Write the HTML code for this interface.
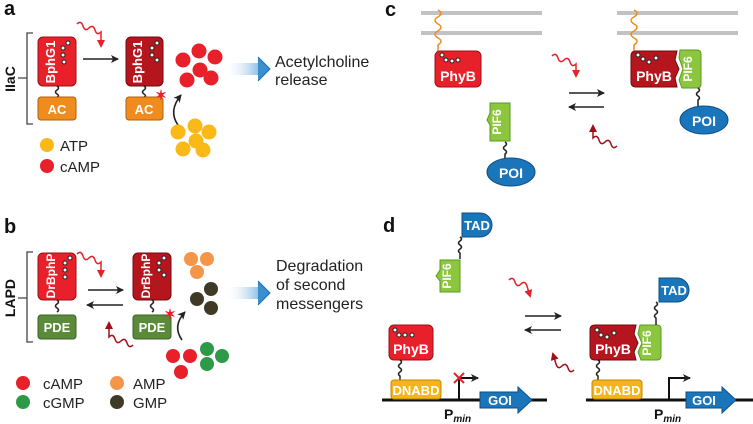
<!DOCTYPE html>
<html><head><meta charset="utf-8"><style>
html,body{margin:0;padding:0;background:#fff}
svg{display:block;font-family:"Liberation Sans",sans-serif}
.w{fill:#fff;font-weight:bold}
.t{fill:#222}
</style></head><body>
<svg width="753" height="424" viewBox="0 0 753 424" xmlns="http://www.w3.org/2000/svg">
<defs>
<linearGradient id="bg" x1="0" x2="1"><stop offset="0" stop-color="#fff" stop-opacity="0"/><stop offset="1" stop-color="#3a8fd0"/></linearGradient>
<marker id="ah" markerWidth="8" markerHeight="8" refX="7" refY="4" orient="auto" markerUnits="userSpaceOnUse"><path d="M0,0 L8,4 L0,8 L2,4Z" fill="#222"/></marker>
<marker id="rh" markerWidth="8" markerHeight="8" refX="6" refY="4" orient="auto" markerUnits="userSpaceOnUse"><path d="M0,0 L8,4 L0,8Z" fill="#e8202a"/></marker>
<marker id="dh" markerWidth="8" markerHeight="8" refX="6" refY="4" orient="auto" markerUnits="userSpaceOnUse"><path d="M0,0 L8,4 L0,8Z" fill="#a01018"/></marker>
</defs>

<!-- Panel a -->
<text x="4" y="15" font-size="20" font-weight="bold" fill="#111">a</text>
<path d="M33,33 H27 V124 H33 M18,78 H27" stroke="#444" stroke-width="1.3" fill="none"/>
<text transform="translate(15,79) rotate(-90)" text-anchor="middle" font-size="14" font-weight="bold" fill="#111">IIaC</text>
<rect x="38" y="37" width="38" height="49" rx="5" fill="#e8202a" stroke="#9a1016"/>
<text transform="translate(55,62) rotate(-90)" text-anchor="middle" class="w" font-size="13">BphG1</text>
<g fill="#fff" stroke="#222" stroke-width="1"><circle cx="68" cy="43" r="2"/><circle cx="63" cy="48" r="2"/><circle cx="63" cy="55" r="2"/><circle cx="64" cy="62" r="2"/></g>
<path d="M57,86 q3,2 0,4 q-3,2 0,4 q3,2 0,3" stroke="#222" stroke-width="1.5" fill="none"/>
<rect x="38" y="97" width="38" height="23" rx="3" fill="#f08c1e" stroke="#b0600a"/>
<text x="57" y="114" text-anchor="middle" class="w" font-size="13">AC</text>
<path d="M77,24 q4,-4 6,2 q2,6 6,2 q4,-4 6,2 q2,6 6,2 l0,14" stroke="#e8202a" stroke-width="1.5" fill="none" marker-end="url(#rh)"/>
<line x1="83" y1="59" x2="118" y2="59" stroke="#222" stroke-width="1.6" marker-end="url(#ah)"/>
<rect x="126" y="37" width="37" height="49" rx="5" fill="#b5151d" stroke="#700a10"/>
<text transform="translate(142,62) rotate(-90)" text-anchor="middle" class="w" font-size="13">BphG1</text>
<g fill="#fff" stroke="#222" stroke-width="1"><circle cx="157" cy="43" r="2"/><circle cx="152" cy="48" r="2"/><circle cx="152" cy="55" r="2"/><circle cx="157" cy="60" r="2"/></g>
<path d="M144,86 q3,2 0,4 q-3,2 0,4 q3,2 0,3" stroke="#222" stroke-width="1.5" fill="none"/>
<rect x="126" y="97" width="37" height="23" rx="3" fill="#f08c1e" stroke="#b0600a"/>
<text x="144" y="114" text-anchor="middle" class="w" font-size="13">AC</text>
<text x="161" y="100" text-anchor="middle" font-size="14" fill="#e8202a" font-weight="bold">✶</text>
<path d="M178,125 q-10,-14 3,-30" stroke="#222" stroke-width="1.6" fill="none" marker-end="url(#ah)"/>
<g fill="#e8202a"><circle cx="183" cy="60" r="7.5"/><circle cx="199" cy="51" r="7.5"/><circle cx="215" cy="57" r="7.5"/><circle cx="200" cy="70" r="7.5"/><circle cx="187" cy="80" r="7.5"/><circle cx="211" cy="78" r="7.5"/></g>
<g fill="#fbb917"><circle cx="178" cy="132" r="7.5"/><circle cx="195" cy="126" r="7.5"/><circle cx="209" cy="132" r="7.5"/><circle cx="196" cy="141" r="7.5"/><circle cx="183" cy="149" r="7.5"/><circle cx="203" cy="150" r="7.5"/></g>
<path d="M224,63 H258 V57 L270,69 L258,81 V75 H224Z" fill="url(#bg)"/>
<path d="M258,57 L270,69 L258,81" fill="#3a8fd0" stroke="#1f6fb0"/>
<text x="275" y="67" font-size="16" class="t">Acetylcholine</text>
<text x="275" y="85" font-size="16" class="t">release</text>
<circle cx="47" cy="145" r="7" fill="#fbb917"/><text x="60" y="151" font-size="15" class="t">ATP</text>
<circle cx="47" cy="166" r="7" fill="#e8202a"/><text x="60" y="172" font-size="15" class="t">cAMP</text>

<!-- Panel b -->
<text x="4" y="233" font-size="20" font-weight="bold" fill="#111">b</text>
<path d="M33,252 H27 V342 H33 M18,298 H27" stroke="#444" stroke-width="1.3" fill="none"/>
<text transform="translate(15,298) rotate(-90)" text-anchor="middle" font-size="14" font-weight="bold" fill="#111">LAPD</text>
<rect x="38" y="253" width="38" height="47" rx="5" fill="#e8202a" stroke="#9a1016"/>
<text transform="translate(55,276) rotate(-90)" text-anchor="middle" class="w" font-size="12">DrBphP</text>
<g fill="#fff" stroke="#222" stroke-width="1"><circle cx="70" cy="258" r="2"/><circle cx="65" cy="263" r="2"/><circle cx="65" cy="270" r="2"/><circle cx="65" cy="277" r="2"/></g>
<path d="M57,300 q3,2 0,4 q-3,2 0,4 q3,2 0,4" stroke="#222" stroke-width="1.5" fill="none"/>
<rect x="38" y="315" width="38" height="24" rx="3" fill="#5a8a3a" stroke="#3b6424"/>
<text x="57" y="332" text-anchor="middle" class="w" font-size="13">PDE</text>
<path d="M77,254 q4,-4 6,2 q2,6 6,2 q4,-4 6,2 q2,6 6,2 l0,14" stroke="#e8202a" stroke-width="1.5" fill="none" marker-end="url(#rh)"/>
<path d="M133,345 q-4,4 -6,-2 q-2,-6 -6,-2 q-4,4 -6,-2 q-2,-6 -6,-2 l0,-14" stroke="#a01018" stroke-width="1.5" fill="none" marker-end="url(#dh)"/>
<line x1="88" y1="290" x2="123" y2="290" stroke="#222" stroke-width="1.6" marker-end="url(#ah)"/>
<line x1="123" y1="305" x2="87" y2="305" stroke="#222" stroke-width="1.6" marker-end="url(#ah)"/>
<rect x="133" y="253" width="38" height="47" rx="5" fill="#b5151d" stroke="#700a10"/>
<text transform="translate(150,276) rotate(-90)" text-anchor="middle" class="w" font-size="12">DrBphP</text>
<g fill="#fff" stroke="#222" stroke-width="1"><circle cx="164" cy="258" r="2"/><circle cx="159" cy="263" r="2"/><circle cx="159" cy="270" r="2"/><circle cx="164" cy="275" r="2"/></g>
<path d="M152,300 q3,2 0,4 q-3,2 0,4 q3,2 0,4" stroke="#222" stroke-width="1.5" fill="none"/>
<rect x="133" y="315" width="38" height="24" rx="3" fill="#5a8a3a" stroke="#3b6424"/>
<text x="152" y="332" text-anchor="middle" class="w" font-size="13">PDE</text>
<text x="170" y="319" text-anchor="middle" font-size="14" fill="#e8202a" font-weight="bold">✶</text>
<path d="M182,340 q-10,-14 3,-28" stroke="#222" stroke-width="1.6" fill="none" marker-end="url(#ah)"/>
<g fill="#f4964a"><circle cx="191" cy="259" r="7"/><circle cx="207" cy="259" r="7"/><circle cx="197" cy="272" r="7"/></g>
<g fill="#3e3a26"><circle cx="211" cy="289" r="7"/><circle cx="197" cy="299" r="7"/><circle cx="211" cy="308" r="7"/></g>
<g fill="#e8202a"><circle cx="173" cy="356" r="7"/><circle cx="190" cy="356" r="7"/><circle cx="181" cy="372" r="7"/></g>
<g fill="#2e9a48"><circle cx="207" cy="349" r="7"/><circle cx="222" cy="356" r="7"/><circle cx="207" cy="364" r="7"/></g>
<path d="M225,287 H258 V281 L270,293 L258,305 V299 H225Z" fill="url(#bg)"/>
<path d="M258,281 L270,293 L258,305" fill="#3a8fd0" stroke="#1f6fb0"/>
<text x="276" y="271" font-size="16" class="t">Degradation</text>
<text x="276" y="290" font-size="16" class="t">of second</text>
<text x="276" y="309" font-size="16" class="t">messengers</text>
<circle cx="23" cy="383" r="7" fill="#e8202a"/><text x="43" y="389" font-size="15" class="t">cAMP</text>
<circle cx="23" cy="402" r="7" fill="#2e9a48"/><text x="43" y="408" font-size="15" class="t">cGMP</text>
<circle cx="117" cy="383" r="7" fill="#f4964a"/><text x="133" y="389" font-size="15" class="t">AMP</text>
<circle cx="117" cy="402" r="7" fill="#3e3a26"/><text x="133" y="408" font-size="15" class="t">GMP</text>

<!-- Panel c -->
<text x="385" y="16" font-size="20" font-weight="bold" fill="#111">c</text>
<g stroke="#c2c2c2" stroke-width="4"><line x1="421" y1="13" x2="542" y2="13"/><line x1="421" y1="33" x2="542" y2="33"/><line x1="617" y1="13" x2="738" y2="13"/><line x1="617" y1="33" x2="738" y2="33"/></g>
<path d="M438,10 q6,3 0,7 q-6,3 0,7 q6,3 0,7 q-6,3 0,7 q6,3 0,7 l0,7" stroke="#f08c1e" stroke-width="1.5" fill="none"/>
<path d="M634,10 q6,3 0,7 q-6,3 0,7 q6,3 0,7 q-6,3 0,7 q6,3 0,7 l0,7" stroke="#f08c1e" stroke-width="1.5" fill="none"/>
<rect x="435" y="51" width="46" height="36" rx="5" fill="#e8202a" stroke="#9a1016"/>
<g fill="#fff" stroke="#222" stroke-width="1"><circle cx="442" cy="55" r="2"/><circle cx="446" cy="60" r="2"/><circle cx="452" cy="61" r="2"/><circle cx="458" cy="60" r="2"/></g>
<text x="458" y="81" text-anchor="middle" class="w" font-size="14">PhyB</text>
<path d="M490,103 H510 V141 H490 V125 L487,120 L490,113Z" fill="#8cc63f" stroke="#5a9a20"/>
<text transform="translate(501,122) rotate(-90)" text-anchor="middle" class="w" font-size="12">PIF6</text>
<path d="M505,142 q3,2 0,4 q-3,2 0,4 q3,2 0,4 l0,4" stroke="#222" stroke-width="1.5" fill="none"/>
<ellipse cx="511" cy="172" rx="24" ry="14" fill="#1a75bb" stroke="#0e4f85"/>
<text x="511" y="178" text-anchor="middle" class="w" font-size="14">POI</text>
<path d="M552,56 q4,-4 6,2 q2,6 6,2 q4,-4 6,2 q2,6 6,2 l0,12" stroke="#e8202a" stroke-width="1.5" fill="none" marker-end="url(#rh)"/>
<path d="M617,146 q-4,4 -6,-2 q-2,-6 -6,-2 q-4,4 -6,-2 q-2,-6 -6,-2 l0,-12" stroke="#a01018" stroke-width="1.5" fill="none" marker-end="url(#dh)"/>
<line x1="569" y1="93" x2="604" y2="93" stroke="#222" stroke-width="1.6" marker-end="url(#ah)"/>
<line x1="604" y1="107" x2="569" y2="107" stroke="#222" stroke-width="1.6" marker-end="url(#ah)"/>
<path d="M636,51 H677 L675,60 L679,69 L675,78 L677,87 H636 Q631,87 631,82 V56 Q631,51 636,51Z" fill="#b5151d" stroke="#700a10"/>
<g fill="#fff" stroke="#222" stroke-width="1"><circle cx="638" cy="55" r="2"/><circle cx="643" cy="59" r="2"/><circle cx="649" cy="62" r="2"/><circle cx="656" cy="58" r="2"/></g>
<text x="654" y="81" text-anchor="middle" class="w" font-size="14">PhyB</text>
<path d="M680,50 H697 Q701,50 701,54 V84 Q701,88 697,88 H682 L679,80 L683,69 L679,58Z" fill="#8cc63f" stroke="#5a9a20"/>
<text transform="translate(692,69) rotate(-90)" text-anchor="middle" class="w" font-size="12">PIF6</text>
<path d="M698,88 q3,2 0,4 q-3,2 0,4 q3,2 0,4 l0,6" stroke="#222" stroke-width="1.5" fill="none"/>
<ellipse cx="704" cy="120" rx="24" ry="14" fill="#1a75bb" stroke="#0e4f85"/>
<text x="704" y="126" text-anchor="middle" class="w" font-size="14">POI</text>

<!-- Panel d -->
<text x="383" y="232" font-size="20" font-weight="bold" fill="#111">d</text>
<path d="M462,213 H480 A12,12 0 0 1 480,237 H462Z" fill="#1a75bb" stroke="#0e4f85"/>
<text x="477" y="230" text-anchor="middle" class="w" font-size="13">TAD</text>
<path d="M460,237 q3,2 0,4 q-3,2 0,4 q3,2 0,4 q-3,2 0,4 l0,6" stroke="#222" stroke-width="1.5" fill="none"/>
<path d="M440,260 H460 V292 H440 V281 L436,276 L440,270Z" fill="#8cc63f" stroke="#5a9a20"/>
<text transform="translate(451,276) rotate(-90)" text-anchor="middle" class="w" font-size="12">PIF6</text>
<path d="M509,280 q4,-4 6,2 q2,6 6,2 q4,-4 6,2 l3,10" stroke="#e8202a" stroke-width="1.5" fill="none" marker-end="url(#rh)"/>
<path d="M574,370 q-4,4 -6,-2 q-2,-6 -6,-2 q-4,4 -6,-2 l-3,-10" stroke="#a01018" stroke-width="1.5" fill="none" marker-end="url(#dh)"/>
<line x1="525" y1="316" x2="561" y2="316" stroke="#222" stroke-width="1.6" marker-end="url(#ah)"/>
<line x1="561" y1="330" x2="525" y2="330" stroke="#222" stroke-width="1.6" marker-end="url(#ah)"/>
<!-- left -->
<rect x="389" y="325" width="44" height="35" rx="5" fill="#e8202a" stroke="#9a1016"/>
<g fill="#fff" stroke="#222" stroke-width="1"><circle cx="395" cy="330" r="2"/><circle cx="399" cy="335" r="2"/><circle cx="405" cy="335" r="2"/><circle cx="412" cy="335" r="2"/></g>
<text x="411" y="354" text-anchor="middle" class="w" font-size="14">PhyB</text>
<path d="M400,360 q3,2 0,4 q-3,2 0,4 q3,2 0,4 q-3,2 0,4 l0,4" stroke="#222" stroke-width="1.5" fill="none"/>
<line x1="382" y1="400" x2="547" y2="400" stroke="#111" stroke-width="3"/>
<rect x="391" y="380" width="50" height="19" rx="3" fill="#f5b41a" stroke="#c08a00"/>
<text x="416" y="395" text-anchor="middle" class="w" font-size="13">DNABD</text>
<path d="M459,400 V378 H478" stroke="#111" stroke-width="2" fill="none" marker-end="url(#ah)"/>
<path d="M454,373 L464,383 M464,373 L454,383" stroke="#e8202a" stroke-width="2"/>
<path d="M480,392 H518 V387 L532,400 L518,413 V408 H480Z" fill="#1a75bb" stroke="#0e4f85"/>
<text x="500" y="405" text-anchor="middle" class="w" font-size="13">GOI</text>
<text x="444" y="419" font-size="14" font-weight="bold" fill="#111">P<tspan font-size="10" font-style="italic" dy="3">min</tspan></text>
<!-- right -->
<line x1="586" y1="400" x2="753" y2="400" stroke="#111" stroke-width="3"/>
<path d="M595,325 H636 L634,334 L638,343 L634,352 L636,360 H595 Q590,360 590,355 V330 Q590,325 595,325Z" fill="#b5151d" stroke="#700a10"/>
<g fill="#fff" stroke="#222" stroke-width="1"><circle cx="597" cy="330" r="2"/><circle cx="601" cy="335" r="2"/><circle cx="607" cy="337" r="2"/><circle cx="614" cy="333" r="2"/></g>
<text x="613" y="354" text-anchor="middle" class="w" font-size="14">PhyB</text>
<path d="M640,325 H657 Q661,325 661,329 V356 Q661,360 657,360 H641 L638,352 L642,343 L638,334Z" fill="#8cc63f" stroke="#5a9a20"/>
<text transform="translate(651,343) rotate(-90)" text-anchor="middle" class="w" font-size="12">PIF6</text>
<path d="M656,302 q3,2 0,4 q-3,2 0,4 q3,2 0,4 q-3,2 0,4 l0,7" stroke="#222" stroke-width="1.5" fill="none"/>
<path d="M659,278 H677 A12,12 0 0 1 677,302 H659Z" fill="#1a75bb" stroke="#0e4f85"/>
<text x="674" y="295" text-anchor="middle" class="w" font-size="13">TAD</text>
<path d="M598,360 q3,2 0,4 q-3,2 0,4 q3,2 0,4 q-3,2 0,4 l0,4" stroke="#222" stroke-width="1.5" fill="none"/>
<rect x="592" y="380" width="50" height="19" rx="3" fill="#f5b41a" stroke="#c08a00"/>
<text x="617" y="395" text-anchor="middle" class="w" font-size="13">DNABD</text>
<path d="M669,400 V378 H690" stroke="#111" stroke-width="2" fill="none" marker-end="url(#ah)"/>
<path d="M686,392 H722 V387 L736,400 L722,413 V408 H686Z" fill="#1a75bb" stroke="#0e4f85"/>
<text x="704" y="405" text-anchor="middle" class="w" font-size="13">GOI</text>
<text x="654" y="419" font-size="14" font-weight="bold" fill="#111">P<tspan font-size="10" font-style="italic" dy="3">min</tspan></text>
</svg>
</body></html>
